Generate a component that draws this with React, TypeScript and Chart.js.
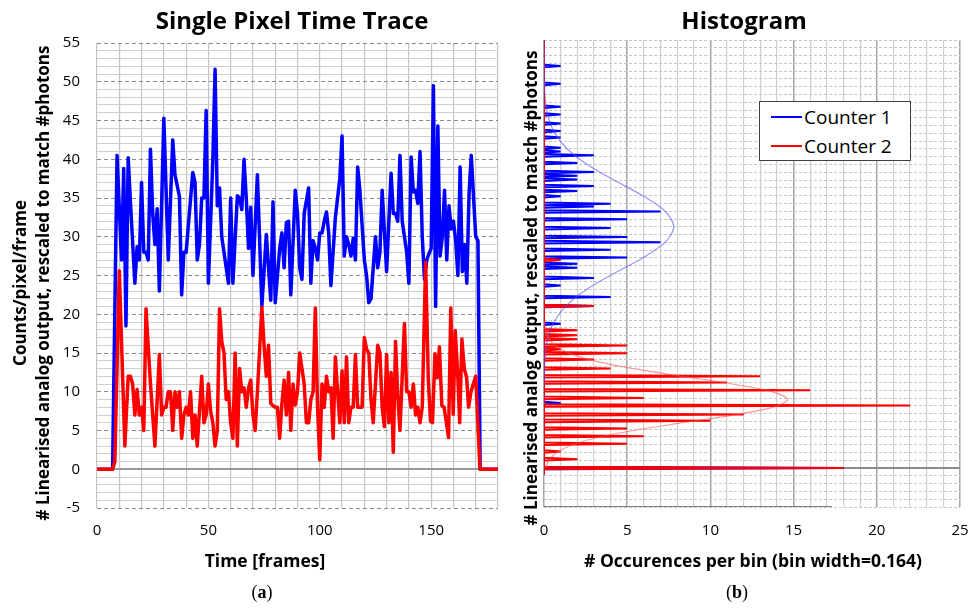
import React, { useEffect, useRef } from "react";
import { Chart, registerables } from "chart.js";

Chart.register(...registerables);

const SANS = "'Open Sans', Lato, sans-serif";
const SERIF = "'Liberation Serif', 'DejaVu Serif', serif";

// ---------- Panel (a): single pixel time trace ----------
const counter1Frames = [0, 7, 9, 11, 12, 13, 14, 15, 17, 18, 19, 20, 21, 22, 23, 24, 25, 26, 27, 28, 30, 32, 34, 35, 37, 38, 39, 40, 43, 44, 45, 46, 47, 48, 49, 50, 52, 53, 54, 55, 56, 57, 59, 60, 61, 63, 64, 65, 66, 67, 68, 69, 70, 72, 74, 76, 78, 79, 80, 82, 83, 84, 85, 86, 87, 89, 90, 91, 92, 93, 95, 96, 97, 98, 99, 100, 101, 102, 103, 104, 105, 107, 108, 109, 110, 111, 112, 113, 114, 115, 116, 117, 118, 120, 121, 122, 123, 125, 126, 127, 128, 130, 132, 133, 134, 135, 136, 137, 138, 139, 140, 141, 142, 143, 144, 145, 146, 147, 148, 149, 150, 151, 152, 153, 154, 155, 156, 157, 158, 159, 160, 161, 162, 163, 164, 165, 166, 167, 168, 170, 171, 172, 180];
const counter1Values = [0, 0, 40.5, 27, 38.8, 18.5, 40.2, 34.5, 24, 28.7, 27, 37, 28, 28, 27, 41.3, 33, 29, 33.6, 23, 45.3, 27, 42.5, 38, 35.2, 22.5, 28, 28, 38.3, 37, 27, 29, 35, 35, 46.3, 24, 40, 51.6, 34, 36.3, 30, 28, 24, 35, 24, 35.3, 35, 33.5, 40, 35, 28.5, 33.8, 25, 38, 21, 30.3, 21.8, 34.5, 21.5, 28.5, 30.5, 26, 31.8, 32, 22.5, 36, 33, 26, 24.5, 33, 36.3, 24, 29.5, 28.5, 27, 30.5, 30.5, 32, 33.2, 30.5, 23.7, 32.5, 35, 37.5, 43, 27.5, 30, 29, 27.5, 29.8, 27, 39, 36, 27, 25, 21.5, 22, 30, 26, 28, 36, 25.5, 38.2, 33, 33, 32, 40.5, 32, 30, 28, 24, 40.3, 35.8, 36, 34.3, 41, 30, 24.5, 27, 27.8, 28.5, 49.5, 21, 44.3, 27.5, 30, 36, 27, 34, 31, 32, 29.5, 25, 39, 25.5, 29, 24, 35.5, 40.5, 30, 29.5, 0, 0];

const counter2Frames = [0, 7, 8, 10, 12.5, 14, 15, 16, 17, 18, 19, 20, 21, 22, 24, 26, 28, 29, 30, 31, 32, 33, 34, 35, 36, 37, 38, 39, 40, 41, 42, 43, 44, 45, 47, 48, 49, 50, 51, 52, 53, 54, 55, 56, 57, 58, 59, 60, 61, 62, 63, 64, 65, 66, 67, 68, 69, 70, 71, 72, 74, 75, 76, 77, 78, 79, 80, 81, 82, 83, 84, 85, 86, 87, 88, 89, 90, 91, 92, 93, 94, 95, 96, 97, 98, 99, 100, 101, 102, 103, 104, 105, 106, 107, 108, 109, 110, 111, 112, 113, 114, 115, 116, 117, 118, 119, 120, 121, 122, 123, 124, 126, 127, 128, 129, 130, 131, 132, 133, 134, 135, 136, 137, 138, 139, 140, 141, 142, 143, 144, 145, 146, 147.5, 148.7, 149.7, 150.6, 151.7, 152.7, 153.7, 154.8, 155.8, 156.7, 157.8, 158.8, 159.9, 160.8, 161.9, 162.8, 163.8, 164.9, 165.9, 166.8, 167.8, 168.9, 170, 171.9, 180];
const counter2Values = [0, 0, 1, 25.6, 3, 12, 12, 11, 7, 10.3, 7, 8, 5, 20.7, 11, 3, 14.8, 7, 8, 8, 10, 10, 5, 10, 8, 10, 4, 7, 8, 7, 10, 4, 7, 3, 12, 6, 7, 11, 7.5, 6, 3, 5, 20.7, 16.5, 15, 9, 10, 6, 4, 15, 3, 13, 10, 10.5, 8, 10.5, 11.5, 7, 5, 10, 20.9, 16, 12, 16, 8.5, 8.2, 8, 8, 4, 8.5, 11.5, 7, 12.5, 5, 11, 8.3, 10, 15, 13, 11, 6, 6, 9, 10, 20.8, 8, 1.2, 11, 8, 12, 10, 10.5, 4, 14.5, 10, 6, 12.7, 6, 14.5, 6, 8, 8, 14.8, 8, 8, 8, 17, 15.5, 15, 9, 6, 16, 15, 8, 5.5, 14.8, 6, 12.5, 2.2, 16.5, 9.5, 5, 12, 18.8, 10, 10, 8, 11, 7, 8, 6, 8, 26.7, 11.8, 6.2, 6, 14.9, 11.8, 15.8, 8.2, 8, 6.3, 4.1, 20.8, 7.1, 17.9, 12.3, 6, 16.8, 12.9, 11.9, 8, 9.9, 11, 12, 0, 0];

const traceXLabels = [0, 50, 100, 150];
const traceYLabels = [-5, 0, 5, 10, 15, 20, 25, 30, 35, 40, 45, 50, 55];

// ---------- Panel (b): histogram ----------
const histBinWidth = 0.164;
const histFirstLevel = -0.82;
const histLastLevel = 55.1;

const hist1Levels = [51.6, 49.4, 46.4, 45.4, 44.2, 43.3, 42.4, 41.2, 40.6, 40.2, 39.2, 38.1, 37.5, 37.0, 36.2, 35.6, 35.0, 34.0, 33.6, 32.9, 31.9, 30.8, 29.7, 29.1, 28.0, 27.0, 26.2, 25.8, 24.4, 23.4, 22.0, 20.8, 18.6, 8.3, 0];
const hist1Counts = [1, 1, 1, 1, 1, 1, 1, 1, 1, 3, 2, 3, 2, 2, 3, 2, 1, 4, 3, 7, 5, 4, 5, 7, 4, 5, 2, 2, 3, 1, 4, 3, 1, 1, 18];

const hist2Levels = [26.7, 20.8, 17.7, 17.1, 16.5, 15.8, 15.2, 14.7, 13.9, 12.8, 11.8, 11.0, 10.0, 9.0, 8.0, 6.9, 6.1, 5.1, 4.1, 3.1, 2.2, 1.1, 0];
const hist2Counts = [1, 3, 2, 2, 2, 5, 1, 5, 3, 4, 13, 11, 16, 6, 22, 12, 10, 5, 6, 5, 1, 2, 18];

const fit1Levels = [11, 13, 15, 17, 19, 21, 23, 25, 27, 29, 31, 33, 35, 37, 39, 41, 43, 45, 47, 49, 51, 55];
const fit1Counts = [0.01, 0.03, 0.1, 0.27, 0.66, 1.4, 2.6, 4.2, 5.93, 7.28, 7.8, 7.28, 5.93, 4.2, 2.6, 1.4, 0.66, 0.27, 0.1, 0.03, 0.01, 0];

const fit2Levels = [0, 0.8, 1.8, 2.8, 3.8, 4.8, 5.8, 6.8, 7.8, 8.8, 9.8, 10.8, 11.8, 12.8, 13.8, 14.8, 15.8, 16.8, 17.8, 18.8];
const fit2Counts = [0.1, 0.25, 0.65, 1.48, 2.98, 5.29, 8.26, 11.35, 13.74, 14.65, 13.74, 11.35, 8.26, 5.29, 2.98, 1.48, 0.65, 0.25, 0.09, 0.02];

const stubCounts = [0, 17.3];
const stubLevels = [-5, -5];

const histXLabels = [0, 5, 10, 15, 20, 25];

function pairs(xs: number[], ys: number[]) {
  return xs.map((x, i) => ({ x, y: ys[i] }));
}

function histogramSeries(levels: number[], counts: number[]) {
  const kMin = Math.round(histFirstLevel / histBinWidth);
  const kMax = Math.round(histLastLevel / histBinWidth);
  const byBin = new Map<number, number>();
  levels.forEach((lv, i) => {
    const k = Math.round(lv / histBinWidth);
    byBin.set(k, (byBin.get(k) || 0) + counts[i]);
  });
  const pts: { x: number; y: number }[] = [];
  for (let k = kMin; k <= kMax; k++) pts.push({ x: byBin.get(k) || 0, y: k * histBinWidth });
  return pts;
}

const tickFont = { family: SANS, size: 15 };
const hiddenTick = "rgba(0,0,0,0)";

function TraceChart() {
  const ref = useRef<HTMLCanvasElement>(null);
  useEffect(() => {
    const chart = new Chart(ref.current as HTMLCanvasElement, {
      type: "scatter",
      data: {
        datasets: [
          {
            label: "Counter 1",
            data: pairs(counter1Frames, counter1Values),
            showLine: true,
            borderColor: "#0000FF",
            backgroundColor: "#0000FF",
            borderWidth: 3.5,
            pointRadius: 0,
            borderJoinStyle: "round",
            borderCapStyle: "round",
            order: 2,
          },
          {
            label: "Counter 2",
            data: pairs(counter2Frames, counter2Values),
            showLine: true,
            borderColor: "#FF0000",
            backgroundColor: "#FF0000",
            borderWidth: 3.5,
            pointRadius: 0,
            borderJoinStyle: "round",
            borderCapStyle: "round",
            order: 1,
          },
        ],
      },
      options: {
        animation: false,
        responsive: false,
        devicePixelRatio: 1,
        events: [],
        layout: { padding: { left: 0, top: 43, right: 7, bottom: 0 } },
        plugins: { legend: { display: false }, tooltip: { enabled: false } },
        scales: {
          x: {
            type: "linear",
            min: 0,
            max: 180,
            afterFit: (s: any) => { s.height = 100; },
            ticks: {
              stepSize: 10,
              autoSkip: false,
              maxRotation: 0,
              padding: 0,
              color: "#000",
              font: tickFont,
              callback: (v: any) => (traceXLabels.includes(v) ? String(v) : ""),
            },
            grid: { color: "#c4c4c4", lineWidth: 1.2, drawTicks: true, tickLength: 14, tickColor: hiddenTick },
            border: { display: false },
          },
          y: {
            type: "linear",
            min: -5,
            max: 55,
            afterFit: (s: any) => { s.width = 97; },
            ticks: {
              stepSize: 1,
              autoSkip: false,
              padding: 17,
              color: "#000",
              font: tickFont,
              callback: (v: any) => (traceYLabels.includes(v) ? String(v) : ""),
            },
            grid: {
              drawTicks: false,
              color: (c: any) => {
                const v = c.tick ? c.tick.value : 1;
                if (v === 0) return "#9a9a9a";
                return v % 5 === 0 ? "#8a8a8a" : "#cfcfcf";
              },
              lineWidth: (c: any) => {
                const v = c.tick ? c.tick.value : 1;
                return v === 0 ? 2 : 1;
              },
            },
            border: {
              display: false,
              dash: (c: any) => {
                const v = c.tick ? c.tick.value : 1;
                return v % 5 === 0 && v !== 0 ? [4, 3] : [];
              },
            },
          },
        },
      },
    } as any);
    return () => chart.destroy();
  }, []);
  return (
    <canvas
      ref={ref}
      width={505}
      height={608}
      style={{ position: "absolute", left: 0, top: 0, width: 505, height: 608 }}
    />
  );
}

function HistogramChart() {
  const ref = useRef<HTMLCanvasElement>(null);
  useEffect(() => {
    const chart = new Chart(ref.current as HTMLCanvasElement, {
      type: "scatter",
      data: {
        datasets: [
          {
            label: "Counter 2 fit",
            data: pairs(fit2Counts, fit2Levels),
            showLine: true,
            borderColor: "rgba(255,80,80,0.6)",
            borderWidth: 1.2,
            pointRadius: 0,
            tension: 0.3,
            order: 0,
          },
          {
            label: "Counter 1 fit",
            data: pairs(fit1Counts, fit1Levels),
            showLine: true,
            borderColor: "rgba(80,80,255,0.6)",
            borderWidth: 1.2,
            pointRadius: 0,
            tension: 0.3,
            order: 1,
          },
          {
            label: "Counter 2",
            data: histogramSeries(hist2Levels, hist2Counts),
            showLine: true,
            borderColor: "#FF0000",
            borderWidth: 2,
            pointRadius: 0,
            order: 2,
          },
          {
            label: "Counter 1",
            data: histogramSeries(hist1Levels, hist1Counts),
            showLine: true,
            borderColor: "#0000FF",
            borderWidth: 2,
            pointRadius: 0,
            order: 3,
          },
          {
            label: "axis",
            data: pairs(stubCounts, stubLevels),
            showLine: true,
            borderColor: "#555555",
            borderWidth: 1.5,
            pointRadius: 0,
            order: 4,
          },
        ],
      },
      options: {
        animation: false,
        responsive: false,
        devicePixelRatio: 1,
        events: [],
        layout: { padding: { left: 0, top: 40, right: 11, bottom: 0 } },
        plugins: { legend: { display: false }, tooltip: { enabled: false } },
        scales: {
          x: {
            type: "linear",
            min: 0,
            max: 25,
            afterFit: (s: any) => { s.height = 101; },
            ticks: {
              stepSize: 1,
              autoSkip: false,
              maxRotation: 0,
              padding: 0,
              color: "#000",
              font: tickFont,
              callback: (v: any) => (histXLabels.includes(v) ? String(v) : ""),
            },
            grid: {
              drawTicks: true,
              tickLength: 15,
              tickColor: hiddenTick,
              color: (c: any) => {
                const v = c.tick ? c.tick.value : 1;
                return v % 5 === 0 ? "#a6a6a6" : "#d0d0d0";
              },
              lineWidth: (c: any) => {
                const v = c.tick ? c.tick.value : 1;
                return v % 5 === 0 ? 1.5 : 1.2;
              },
            },
            border: { display: false },
          },
          y: {
            type: "linear",
            min: -5,
            max: 55,
            afterFit: (s: any) => { s.width = 39; },
            ticks: { stepSize: 1, autoSkip: false, display: false },
            grid: {
              drawTicks: false,
              color: (c: any) => {
                const v = c.tick ? c.tick.value : 1;
                return v === 0 ? "#8c8c8c" : "#c6c6c6";
              },
              lineWidth: (c: any) => {
                const v = c.tick ? c.tick.value : 1;
                return v === 0 ? 2 : 1;
              },
            },
            border: {
              display: false,
              dash: (c: any) => {
                const v = c.tick ? c.tick.value : 1;
                return v === 0 ? [] : [3, 2];
              },
            },
          },
        },
      },
    } as any);
    return () => chart.destroy();
  }, []);
  return (
    <canvas
      ref={ref}
      width={466}
      height={608}
      style={{ position: "absolute", left: 505, top: 0, width: 466, height: 608 }}
    />
  );
}

function Label(props: {
  text: React.ReactNode;
  cx: number;
  cy: number;
  size: number;
  bold?: boolean;
  rotate?: boolean;
  family?: string;
}) {
  const w = 640;
  const h = Math.round(props.size * 1.4);
  return (
    <div
      style={{
        position: "absolute",
        left: props.cx - w / 2,
        top: props.cy - h / 2,
        width: w,
        height: h,
        lineHeight: h + "px",
        textAlign: "center",
        whiteSpace: "nowrap",
        fontFamily: props.family || SANS,
        fontSize: props.size,
        fontWeight: props.bold ? 700 : 400,
        color: "#000",
        transform: props.rotate ? "rotate(-90deg)" : undefined,
        pointerEvents: "none",
      }}
    >
      {props.text}
    </div>
  );
}

function Legend() {
  const row = (color: string, text: string, top: number) => (
    <div style={{ position: "absolute", left: 0, top, width: 150, height: 26 }}>
      <div style={{ position: "absolute", left: 11, top: 12, width: 31, height: 2, background: color }} />
      <div
        style={{
          position: "absolute",
          left: 44,
          top: 0,
          height: 26,
          lineHeight: "26px",
          fontFamily: SANS,
          fontSize: 19,
          whiteSpace: "nowrap",
          color: "#000",
        }}
      >
        {text}
      </div>
    </div>
  );
  return (
    <div
      style={{
        position: "absolute",
        left: 759,
        top: 101,
        width: 152,
        height: 60,
        boxSizing: "border-box",
        border: "1.5px solid #404040",
        background: "#fff",
      }}
    >
      {row("#0000FF", "Counter 1", 2)}
      {row("#FF0000", "Counter 2", 31)}
    </div>
  );
}

export default function App() {
  return (
    <div
      style={{
        position: "absolute",
        left: 0,
        top: 0,
        width: 971,
        height: 608,
        background: "#fff",
        overflow: "hidden",
      }}
    >
      <TraceChart />
      <HistogramChart />
      <Label text="Single Pixel Time Trace" cx={292} cy={20} size={24} bold />
      <Label text="Histogram" cx={744} cy={20} size={24} bold />
      <Label text="Counts/pixel/frame" cx={20} cy={283} size={17} bold rotate />
      <Label
        text="# Linearised analog output, rescaled to match #photons"
        cx={43}
        cy={283}
        size={17}
        bold
        rotate
      />
      <Label
        text="# Linearised analog output, rescaled to match #photons"
        cx={531}
        cy={288}
        size={17}
        bold
        rotate
      />
      <Label text="Time [frames]" cx={265} cy={560} size={17.5} bold />
      <Label text="# Occurences per bin (bin width=0.164)" cx={753} cy={560} size={17.5} bold />
      <Label
        text={<span>(<b>a</b>)</span>}
        cx={262}
        cy={592}
        size={18}
        family={SERIF}
      />
      <Label
        text={<span>(<b>b</b>)</span>}
        cx={737}
        cy={592}
        size={18}
        family={SERIF}
      />
      <Legend />
    </div>
  );
}
